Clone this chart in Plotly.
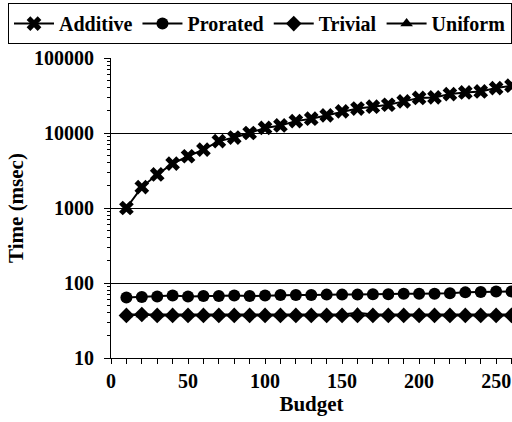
import plotly.graph_objects as go

budget = [10, 20, 30, 40, 50, 60, 70, 80, 90, 100, 110, 120, 130, 140, 150,
          160, 170, 180, 190, 200, 210, 220, 230, 240, 250, 260]
additive = [1000, 1900, 2800, 3900, 4900, 6000, 7800, 8700, 10000, 11700, 12600,
            14400, 15500, 17200, 19400, 21200, 22400, 23800, 26400, 29300, 29800,
            33000, 34700, 35800, 39700, 42700]
prorated = [64, 65, 66, 68, 66, 67, 67, 68, 67, 68, 69, 69, 69, 70, 70, 70, 71,
            71, 72, 72, 72, 73, 75, 76, 77, 77]
trivial = [37, 38, 37, 37, 37, 37, 37, 37, 37, 37, 37, 37, 37, 37, 37, 37, 37,
           37, 37, 37, 37, 37, 37, 37, 37, 37]
uniform = [38, 38, 38, 38, 38, 38, 38, 38, 38, 38, 38, 38, 38, 38, 38, 40, 38,
           38, 38, 38, 38, 38, 38, 38, 38, 38]

# drawing order (Uniform under Trivial), legend order via legendrank
series = [
    ("Additive", additive, "x", 13, 1),
    ("Prorated", prorated, "circle", 12, 2),
    ("Uniform", uniform, "triangle-up", 11, 4),
    ("Trivial", trivial, "diamond", 12, 3),
]

FONT = "Liberation Serif, Times New Roman, DejaVu Serif, serif"
BOLD = dict(family=FONT, size=20, color="black", weight="bold")

fig = go.Figure()
for name, vals, sym, sz, rank in series:
    fig.add_trace(go.Scatter(
        x=budget, y=vals, name=name, mode="lines+markers",
        line=dict(color="black", width=2),
        marker=dict(symbol=sym, size=sz, color="black", line=dict(width=0)),
        cliponaxis=False, legendrank=rank,
    ))

fig.update_layout(
    width=512, height=422,
    margin=dict(l=111, r=0, t=58, b=64),
    plot_bgcolor="white", paper_bgcolor="white",
    font=BOLD,
    showlegend=True,
    legend=dict(
        orientation="h", x=-0.235, y=1.183, xanchor="left", yanchor="top",
        bordercolor="black", borderwidth=1, bgcolor="white",
        font=BOLD, itemwidth=40, tracegroupgap=0,
    ),
    xaxis=dict(
        range=[0, 260.3], dtick=50, tick0=0,
        tickfont=BOLD,
        ticks="outside", ticklen=5, tickcolor="black", tickwidth=1,
        showline=True, linecolor="black", linewidth=1,
        showgrid=False, zeroline=False,
        minor=dict(dtick=10, ticks="outside", ticklen=5, tickcolor="black", showgrid=False),
        title=dict(text="Budget", font=dict(family=FONT, size=21, color="black", weight="bold"), standoff=2),
    ),
    yaxis=dict(
        type="log", range=[1, 5], dtick=1,
        tickvals=[10, 100, 1000, 10000, 100000],
        ticktext=["10", "100", "1000", "10000", "100000"],
        tickfont=BOLD,
        ticks="outside", ticklen=6, tickcolor="black", tickwidth=1,
        ticklabelstandoff=6,
        showline=True, linecolor="black", linewidth=1,
        showgrid=True, gridcolor="black", gridwidth=1,
        zeroline=False,
        minor=dict(ticks="outside", ticklen=3, tickcolor="black", showgrid=False,
                   tickvals=[a * 10 ** e for e in range(1, 5) for a in range(2, 10)]),
        title=dict(text="Time (msec)", font=dict(family=FONT, size=21, color="black", weight="bold"), standoff=4),
    ),
)

fig.write_html("out.html")
